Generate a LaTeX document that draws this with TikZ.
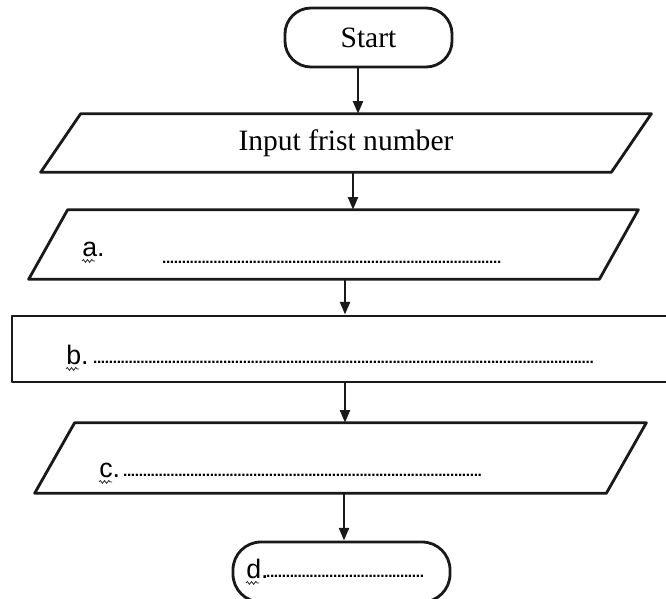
\documentclass[tikz,border=0pt]{standalone}
\usepackage{fontspec}
\setmainfont{Liberation Serif}
\newfontfamily\labelfont{Liberation Sans}
\usetikzlibrary{arrows.meta,decorations.pathmorphing}

\newcommand{\fillerdots}[1]{\hbox to #1{\leaders\hbox to 2.8pt{\hss.\hss}\hfill}}

\begin{document}
\begin{tikzpicture}[x=0.025cm, y=-0.025cm,
  boxline/.style={draw=black!90, line width=2pt, line join=round, inner sep=0pt},
  hidden/.style={inner sep=0pt},
  flow/.style={draw=black!90, line width=1.8pt, -{Triangle[length=9pt,width=7pt]}},
  title/.style={font=\fontsize{21}{25}\selectfont},
  letter/.style={anchor=base west, inner sep=0pt, font=\labelfont\fontsize{19}{22}\selectfont},
  dotrow/.style={anchor=base west, inner sep=0pt, font=\labelfont\bfseries\fontsize{11}{12}\selectfont},
  squig/.style={draw=black!80, line width=0.6pt, decorate, decoration={snake, amplitude=1pt, segment length=3pt}}]
\useasboundingbox (0,0) rectangle (666,599);
\clip (0,0) rectangle (666,599);
% Terminals
\node[boxline, rounded corners=0.65cm, minimum width=4.175cm, minimum height=1.475cm, title] (box_start) at (368.5,37.5) {Start};
\node[boxline, rounded corners=0.7cm, minimum width=5.425cm, minimum height=1.5cm] (box_d) at (341.5,572) {};
% Input / output boxes
\node[hidden, minimum width=15.25cm, minimum height=1.45cm, title] (box_in1) at (346,143) {Input frist number};
\draw[boxline] ([xshift=1cm]box_in1.north west) -- (box_in1.north east) -- ([xshift=-1cm]box_in1.south east) -- (box_in1.south west) -- cycle;
\node[hidden, minimum width=15.225cm, minimum height=1.725cm] (box_a) at (333.5,244.5) {};
\draw[boxline] ([xshift=0.975cm]box_a.north west) -- (box_a.north east) -- ([xshift=-0.975cm]box_a.south east) -- (box_a.south west) -- cycle;
\node[hidden, minimum width=15.275cm, minimum height=1.75cm] (box_c) at (340.5,458) {};
\draw[boxline] ([xshift=1cm]box_c.north west) -- (box_c.north east) -- ([xshift=-1cm]box_c.south east) -- (box_c.south west) -- cycle;
% Process box
\node[boxline, minimum width=16.95cm, minimum height=1.65cm] (box_b) at (351,349) {};
% Blanks to fill in
\node[letter] (lbl_a) at (82,256) {a.};
\node[dotrow] (dots_a) at (162,263) {\fillerdots{8.55cm}};
\node[letter] (lbl_b) at (66,364) {b.};
\node[dotrow] (dots_b) at (93,363) {\fillerdots{12.5cm}};
\node[letter] (lbl_c) at (99,477) {c.};
\node[dotrow] (dots_c) at (123,476) {\fillerdots{9.025cm}};
\node[letter] (lbl_d) at (246,578) {d.};
\node[dotrow] (dots_d) at (266,577) {\fillerdots{3.95cm}};
% Spelling marks
\draw[squig] ([yshift=-3.5pt]lbl_a.base west) -- ++(13,0);
\draw[squig] ([yshift=-3.5pt]lbl_b.base west) -- ++(13,0);
\draw[squig] ([yshift=-3.5pt]lbl_c.base west) -- ++(13,0);
\draw[squig] ([yshift=-3.5pt]lbl_d.base west) -- ++(13,0);
% Flow
\draw[flow] ([xshift=-0.2625cm]box_start.south) -- ([xshift=-0.2625cm]box_start.south |- box_in1.north);
\draw[flow] ([xshift=0.175cm]box_in1.south) -- ([xshift=0.175cm]box_in1.south |- box_a.north);
\draw[flow] ([xshift=0.2875cm]box_a.south) -- ([xshift=0.2875cm]box_a.south |- box_b.north);
\draw[flow] ([xshift=-0.15cm]box_b.south) -- ([xshift=-0.15cm]box_b.south |- box_c.north);
\draw[flow] ([xshift=0.0875cm]box_c.south) -- ([xshift=0.0875cm]box_c.south |- box_d.north);
\end{tikzpicture}
\end{document}
